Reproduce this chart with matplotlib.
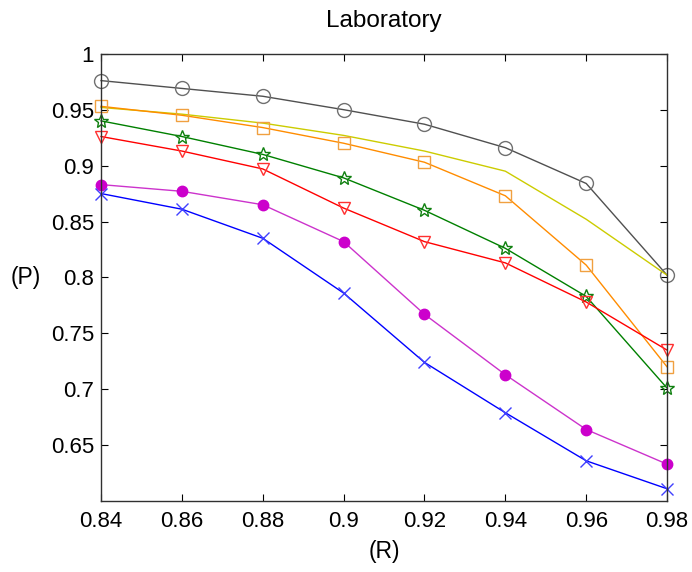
"""Laboratory precision vs R"""

import matplotlib
matplotlib.use("Agg")
import matplotlib.pyplot as plt

plt.rcParams['font.family'] = ['Liberation Sans', 'DejaVu Sans']

r_values = [0.84, 0.86, 0.88, 0.90, 0.92, 0.94, 0.96, 0.98]

p_circle = [0.976, 0.969, 0.962, 0.950, 0.937, 0.916, 0.884, 0.802]
p_yellow = [0.952, 0.946, 0.938, 0.927, 0.913, 0.895, 0.852, 0.802]
p_square = [0.953, 0.945, 0.934, 0.920, 0.903, 0.873, 0.811, 0.720]
p_star = [0.940, 0.926, 0.910, 0.889, 0.860, 0.826, 0.783, 0.701]
p_triangle = [0.926, 0.913, 0.897, 0.862, 0.832, 0.813, 0.778, 0.735]
p_dot = [0.883, 0.877, 0.865, 0.832, 0.767, 0.713, 0.664, 0.633]
p_cross = [0.875, 0.861, 0.835, 0.786, 0.724, 0.679, 0.636, 0.611]

x_ticks = [0.84, 0.86, 0.88, 0.90, 0.92, 0.94, 0.96, 0.98]
x_labels = ["0.84", "0.86", "0.88", "0.9", "0.92", "0.94", "0.96", "0.98"]
y_ticks = [0.65, 0.70, 0.75, 0.80, 0.85, 0.90, 0.95, 1.0]
y_labels = ["0.65", "0.7", "0.75", "0.8", "0.85", "0.9", "0.95", "1"]


def main():
    fig = plt.figure(figsize=(6.92, 5.72), dpi=100)
    ax = fig.add_axes([0.146, 0.124, 0.818, 0.782])

    kw = dict(linewidth=1.0, clip_on=False)
    ax.plot(r_values, p_circle, color="#505050", marker="o", markersize=10,
            markerfacecolor="none", markeredgecolor="#707070", **kw)
    ax.plot(r_values, p_yellow, color="#cccc00", **kw)
    ax.plot(r_values, p_square, color="#ff8c00", marker="s", markersize=9,
            markerfacecolor="none", markeredgecolor="#f0a040", **kw)
    ax.plot(r_values, p_star, color="#008000", marker="*", markersize=10,
            markerfacecolor="none", markeredgecolor="#108010", **kw)
    ax.plot(r_values, p_triangle, color="#ff0000", marker="v", markersize=8,
            markerfacecolor="none", markeredgecolor="#ff3030", **kw)
    ax.plot(r_values, p_dot, color="#cc33cc", marker="o", markersize=7.5,
            markerfacecolor="#cc00cc", markeredgecolor="#cc00cc", **kw)
    ax.plot(r_values, p_cross, color="#0000ff", marker="x", markersize=9,
            markeredgecolor="#4040ff", **kw)

    ax.set_xlim(0.84, 0.98)
    ax.set_ylim(0.6, 1.0)
    ax.set_xticks(x_ticks)
    ax.set_xticklabels(x_labels)
    ax.set_yticks(y_ticks)
    ax.set_yticklabels(y_labels)
    ax.tick_params(direction="in", top=True, right=True, labelsize=16,
                   length=5)
    ax.tick_params(axis="x", pad=7)
    ax.tick_params(axis="y", pad=5)
    for spine in ax.spines.values():
        spine.set_linewidth(1.0)
        spine.set_color("#303030")

    ax.set_title("Laboratory", fontsize=17.5, pad=19)
    ax.set_xlabel("(R)", fontsize=16.5, labelpad=6)
    ax.set_ylabel("(P)", fontsize=16.5, rotation=0, labelpad=18,
                  va="center")

    fig.savefig("out.png", dpi=100)


if __name__ == '__main__':
    main()
